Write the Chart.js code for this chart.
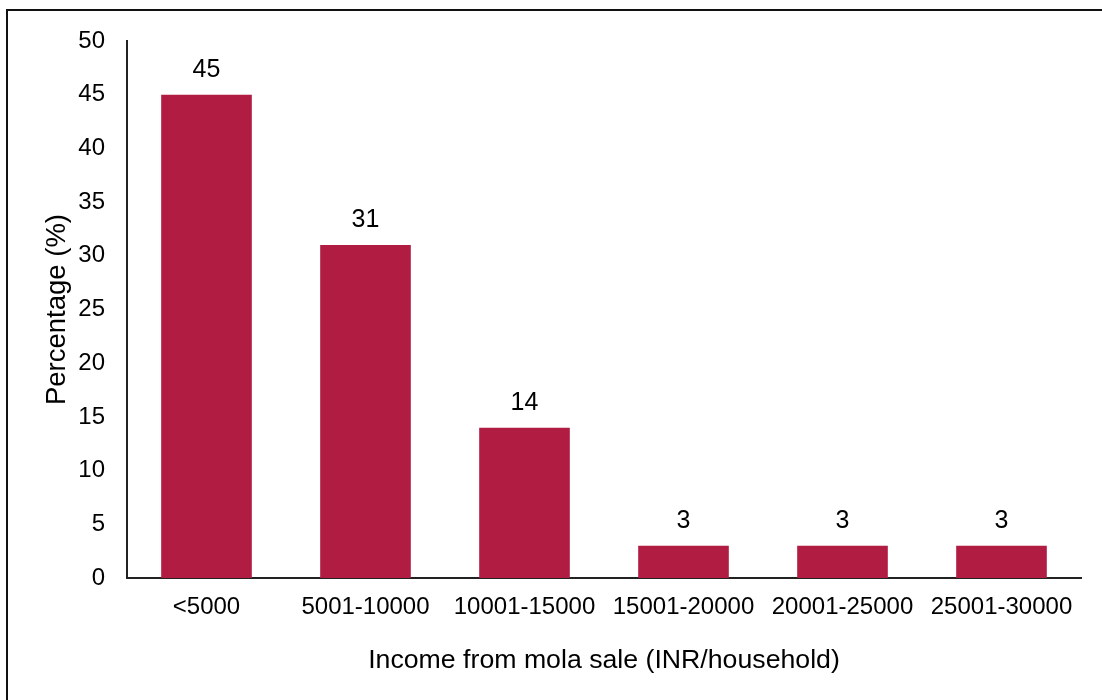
<!DOCTYPE html>
<html>
<head>
<meta charset="utf-8">
<script src="https://cdn.jsdelivr.net/npm/chart.js@4.4.1/dist/chart.umd.min.js"></script>
<style>
  html, body { margin: 0; padding: 0; background: #fff; }
  #wrap { position: relative; width: 1102px; height: 700px; }
  #frame { position: absolute; left: 6px; top: 9px; width: 1110px; height: 700px; border-left: 2px solid #111; border-top: 2px solid #111; }
  canvas { position: absolute; left: 0; top: 0; }
</style>
</head>
<body>
<div id="wrap">
  <div id="frame"></div>
  <canvas id="chart" width="1102" height="700"></canvas>
</div>
<script>
const incomeClasses = ['<5000', '5001-10000', '10001-15000', '15001-20000', '20001-25000', '25001-30000'];
const sharePercent = [45, 31, 14, 3, 3, 3];
const yTicks = [0, 5, 10, 15, 20, 25, 30, 35, 40, 45, 50];

const barColour = '#b01c42';
const fontFamily = 'Arial, "Liberation Sans", sans-serif';

// writes the value just above each bar
const valueLabels = {
    id: 'valueLabels',
    afterDatasetsDraw(chart) {
        const ctx = chart.ctx;
        const meta = chart.getDatasetMeta(0);
        ctx.save();
        ctx.font = '25px ' + fontFamily;
        ctx.fillStyle = '#000';
        ctx.textAlign = 'center';
        ctx.textBaseline = 'middle';
        meta.data.forEach(function (bar, i) {
            ctx.fillText(String(sharePercent[i]), bar.x, bar.y - 25);
        });
        ctx.restore();
    }
};

new Chart(document.getElementById('chart'), {
    type: 'bar',
    data: {
        labels: incomeClasses,
        datasets: [{
            data: sharePercent,
            backgroundColor: barColour,
            borderWidth: 0,
            categoryPercentage: 1,
            barPercentage: 0.57
        }]
    },
    options: {
        responsive: false,
        animation: false,
        layout: { padding: { top: 41, right: 21, bottom: 0, left: 0 } },
        plugins: {
            legend: { display: false },
            tooltip: { enabled: false }
        },
        scales: {
            x: {
                grid: { display: false, drawTicks: false },
                border: { display: true, color: '#222', width: 2 },
                ticks: {
                    color: '#000',
                    padding: 15,
                    maxRotation: 0,
                    font: { family: fontFamily, size: 24 }
                },
                title: {
                    display: true,
                    text: 'Income from mola sale (INR/household)',
                    color: '#000',
                    padding: { top: 0, bottom: 23 },
                    font: { family: fontFamily, size: 26.7 }
                },
                afterFit(scale) { scale.height = 122; }
            },
            y: {
                min: 0,
                max: 50,
                grid: { display: false, drawTicks: false },
                border: { display: true, color: '#222', width: 2 },
                afterBuildTicks(scale) {
                    scale.ticks = yTicks.map(v => ({ value: v }));
                },
                ticks: {
                    color: '#000',
                    padding: 22,
                    font: { family: fontFamily, size: 24 }
                },
                title: {
                    display: true,
                    text: 'Percentage (%)',
                    color: '#000',
                    padding: { top: 41, bottom: 0 },
                    font: { family: fontFamily, size: 27.5 }
                },
                afterFit(scale) { scale.width = 127; }
            }
        }
    },
    plugins: [valueLabels]
});
</script>
</body>
</html>
